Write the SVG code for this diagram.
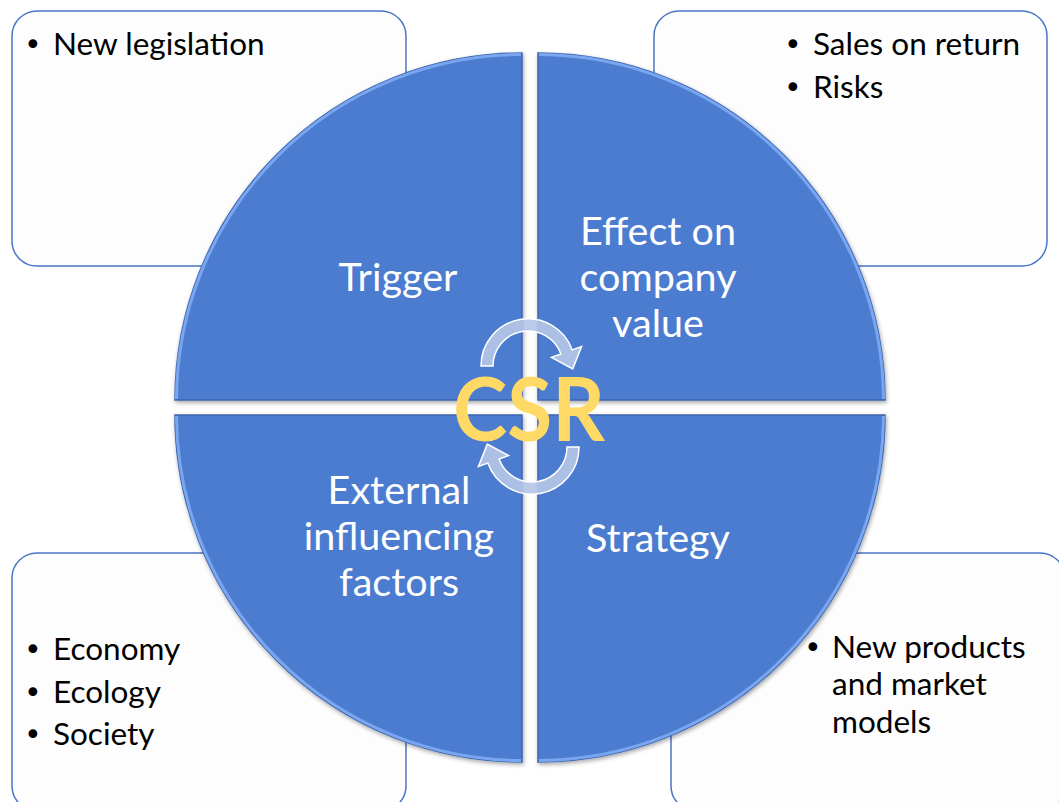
<svg xmlns="http://www.w3.org/2000/svg" width="1059" height="802" viewBox="0 0 1059 802">
<style>
.box{fill:#FDFDFD;stroke:#4A76C6;stroke-width:1.5}
.bt{font-family:Lato,"Liberation Sans",sans-serif;font-size:31.5px;fill:#000}
.bu{font-family:"DejaVu Sans",sans-serif;font-size:30px;fill:#000}
.q{fill:#4C7CD0;stroke:#3D66B0;stroke-width:1.5;filter:url(#sh)}
.rim{fill:none;stroke:#79A6EE;stroke-width:3}
.ql{font-family:Lato,"Liberation Sans",sans-serif;font-size:39.5px;fill:#fff;text-anchor:middle}
.arr{fill:#B4C6E6;fill-opacity:0.92;stroke:#fff;stroke-width:1.5}
.csr{font-family:Lato,"Liberation Sans",sans-serif;font-size:88px;font-weight:bold;fill:#FFD966;text-anchor:middle}
</style>
<defs>
<filter id="sh" x="-10%" y="-10%" width="120%" height="120%">
<feDropShadow dx="1" dy="2" stdDeviation="2" flood-color="#000" flood-opacity="0.35"/>
</filter>
</defs>
<rect width="1059" height="802" fill="#fff"/>
<g id="box-tl"><rect class="box" x="12" y="11" width="394" height="255" rx="25"/>
<text class="bu" x="24" y="55">•</text><text class="bt" x="53" y="55">New legislation</text></g>
<g id="box-tr"><rect class="box" x="654" y="11" width="393" height="255" rx="25"/>
<text class="bu" x="784" y="55">•</text><text class="bt" x="813" y="55">Sales on return</text>
<text class="bu" x="784" y="98">•</text><text class="bt" x="813" y="98">Risks</text></g>
<g id="box-bl"><rect class="box" x="12" y="553" width="394" height="258" rx="25"/>
<text class="bu" x="24" y="660">•</text><text class="bt" x="53" y="660">Economy</text>
<text class="bu" x="24" y="703">•</text><text class="bt" x="53" y="703">Ecology</text>
<text class="bu" x="24" y="745">•</text><text class="bt" x="53" y="745">Society</text></g>
<g id="box-br"><rect class="box" x="671" y="553" width="394" height="258" rx="25"/>
<text class="bu" x="804" y="658">•</text><text class="bt" x="832" y="658">New products</text>
<text class="bt" x="832" y="695">and market</text>
<text class="bt" x="832" y="733">models</text></g>
<g id="q-trigger"><path class="q" d="M522,400 L175,400 A347,347 0 0 1 522,53 Z"/>
<path class="rim" d="M176.5,399 A346,346 0 0 1 521,54.5"/>
<text class="ql" x="398" y="291">Trigger</text></g>
<g id="q-effect"><path class="q" d="M538,400 L538,53 A347,347 0 0 1 885,400 Z"/>
<path class="rim" d="M539,54.5 A346,346 0 0 1 883.5,399"/>
<text class="ql" x="658" y="245">Effect on</text>
<text class="ql" x="658" y="291">company</text>
<text class="ql" x="658" y="337">value</text></g>
<g id="q-external"><path class="q" d="M522,415 L522,762 A347,347 0 0 1 175,415 Z"/>
<path class="rim" d="M521,760.5 A346,346 0 0 1 176.5,416"/>
<text class="ql" x="399" y="504">External</text>
<text class="ql" x="399" y="550">influencing</text>
<text class="ql" x="399" y="596">factors</text></g>
<g id="q-strategy"><path class="q" d="M538,415 L885,415 A347,347 0 0 1 538,762 Z"/>
<path class="rim" d="M883.5,416 A346,346 0 0 1 539,760.5"/>
<text class="ql" x="658" y="552">Strategy</text></g>
<g id="connectors">
<path id="arr-top" class="arr" d="M481,366 A47,47 0 0 1 572.2,349.9 L581.6,346.5 L572.7,368.9 L551.5,357.4 L560.9,354 A35,35 0 0 0 493,366 Z"/>
<path id="arr-bottom" class="arr" transform="rotate(180 530 406.5)" d="M481,366 A47,47 0 0 1 572.2,349.9 L581.6,346.5 L572.7,368.9 L551.5,357.4 L560.9,354 A35,35 0 0 0 493,366 Z"/>
</g>
<g id="csr"><text class="csr" x="529" y="441" textLength="152" lengthAdjust="spacingAndGlyphs">CSR</text></g>
</svg>
